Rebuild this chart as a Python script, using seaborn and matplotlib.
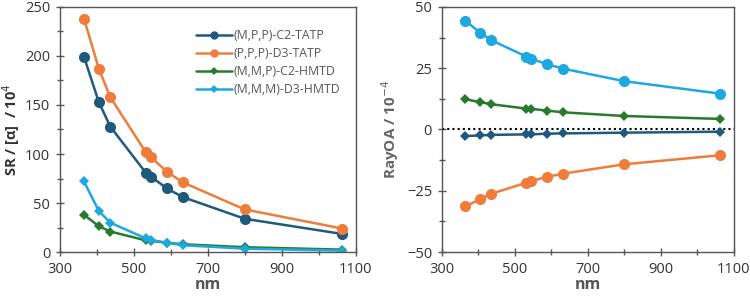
import matplotlib
matplotlib.use("Agg")
import matplotlib.pyplot as plt
from matplotlib.ticker import MultipleLocator
import pandas as pd
import seaborn as sns

# wavelengths (nm)
wavelength = [365, 405, 436, 532, 546, 589, 633, 800, 1064]

series_names = ["(M,P,P)-C2-TATP", "(P,P,P)-D3-TATP", "(M,M,P)-C2-HMTD", "(M,M,M)-D3-HMTD"]

# left panel: SR / [alpha] / 10^4
sr_mpp_c2_tatp = [199, 153, 128, 81, 77, 65, 56, 34, 18.5]
sr_ppp_d3_tatp = [238, 187, 158, 102, 97, 82, 71, 43.5, 24]
sr_mmp_c2_hmtd = [38, 26.5, 21, 12, 11.5, 9.5, 8, 5, 2.5]
sr_mmm_d3_hmtd = [72, 42, 30, 14, 12.5, 9.5, 7, 3.5, 1.5]

# right panel: RayOA / 10^-4
ray_mpp_c2_tatp = [-2.7, -2.4, -2.2, -2.0, -2.0, -1.7, -1.6, -1.3, -0.9]
ray_ppp_d3_tatp = [-31.4, -28.4, -26.2, -21.7, -21.0, -19.3, -18.0, -14.2, -10.5]
ray_mmp_c2_hmtd = [12.3, 11.2, 10.3, 8.5, 8.4, 7.7, 7.0, 5.5, 4.3]
ray_mmm_d3_hmtd = [44.3, 39.5, 36.4, 29.7, 28.8, 26.6, 24.8, 19.7, 14.6]

x_ticks = [300, 500, 700, 900, 1100]

colors = ["#1f5a7c", "#f07c3c", "#2a7a2e", "#1ea8e2"]
left_markers = ["o", "o", "D", "D"]
right_markers = ["D", "o", "D", "o"]

sns.set_theme(style="white")
plt.rcParams["font.family"] = ["Open Sans", "DejaVu Sans"]

fig = plt.figure(figsize=(7.5, 2.98), dpi=100)
ax1 = fig.add_axes([0.080, 0.154, 0.394, 0.823])
ax2 = fig.add_axes([0.589, 0.154, 0.389, 0.823])

left_vals = [sr_mpp_c2_tatp, sr_ppp_d3_tatp, sr_mmp_c2_hmtd, sr_mmm_d3_hmtd]
right_vals = [ray_mpp_c2_tatp, ray_ppp_d3_tatp, ray_mmp_c2_hmtd, ray_mmm_d3_hmtd]

for name, vals, c, m in zip(series_names, left_vals, colors, left_markers):
    df = pd.DataFrame({"nm": wavelength, "y": vals})
    ms = 8 if m == "o" else 5.5
    sns.lineplot(data=df, x="nm", y="y", ax=ax1, color=c, marker=m, markersize=ms,
                 markeredgewidth=0, linewidth=1.8, label=name)

for name, vals, c, m in zip(series_names, right_vals, colors, right_markers):
    df = pd.DataFrame({"nm": wavelength, "y": vals})
    ms = 8 if m == "o" else 5.5
    sns.lineplot(data=df, x="nm", y="y", ax=ax2, color=c, marker=m, markersize=ms,
                 markeredgewidth=0, linewidth=1.8, legend=False)

ax2.axhline(0, color="black", ls=(0, (1, 1.5)), lw=1.5, zorder=1)

spine_col = "#555555"
text_col = "#333333"
for ax in (ax1, ax2):
    ax.set_xlim(300, 1100)
    ax.set_xticks(x_ticks)
    ax.xaxis.set_minor_locator(MultipleLocator(100))
    for s in ax.spines.values():
        s.set_color(spine_col)
        s.set_linewidth(1.0)
    ax.tick_params(which="both", direction="inout", color=spine_col, width=1.0,
                   labelsize=10.5, labelcolor=text_col, bottom=True, left=True,
                   top=False, right=False, pad=4)
    ax.tick_params(which="major", length=6)
    ax.tick_params(which="minor", length=5)
    ax.set_xlabel("nm", fontsize=11.5, fontweight="bold", color="#555555", labelpad=0)

ax1.set_ylim(0, 250)
ax1.yaxis.set_major_locator(MultipleLocator(50))
ax1.yaxis.set_minor_locator(MultipleLocator(25))
ax1.set_ylabel("SR / [α]  / 10$^4$", fontsize=10.5, fontweight="bold", color="#333333", labelpad=2)

ax2.set_ylim(-50, 50)
ax2.yaxis.set_major_locator(MultipleLocator(25))
ax2.yaxis.set_minor_locator(MultipleLocator(12.5))
ax2.set_ylabel("RayOA / 10$^{-4}$", fontsize=11, fontweight="bold", color="#666666", labelpad=4)

leg = ax1.legend(loc="upper right", bbox_to_anchor=(0.985, 0.955), frameon=False,
                 fontsize=8.8, handlelength=3.0, handletextpad=0.1, labelspacing=0.42)
for t in leg.get_texts():
    t.set_color("#555555")
for h, m in zip(leg.legend_handles, left_markers):
    h.set_markersize(6 if m == "o" else 4.5)

fig.savefig("out.png", dpi=100)
